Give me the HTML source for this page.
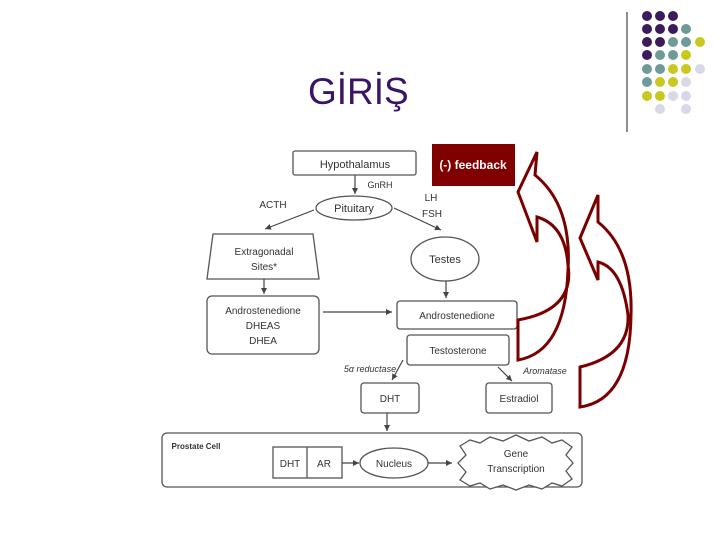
<!DOCTYPE html>
<html><head><meta charset="utf-8"><style>
html,body{margin:0;padding:0;background:#fff;width:720px;height:540px;overflow:hidden}
svg{display:block}
text{font-family:"Liberation Sans",sans-serif}
</style></head><body>
<svg width="720" height="540" viewBox="0 0 720 540" xmlns="http://www.w3.org/2000/svg">
<defs><marker id="ah" markerWidth="8" markerHeight="8" refX="6" refY="3" orient="auto" markerUnits="userSpaceOnUse"><path d="M0,0 L6,3 L0,6 Z" fill="#444"/></marker></defs>
<text x="308" y="104" font-size="37" fill="#3a1466">GİRİŞ</text>
<line x1="627" y1="12" x2="627" y2="132" stroke="#222" stroke-width="1"/>
<g>
<circle cx="647" cy="16" r="5" fill="#3b1a5e"/><circle cx="660" cy="16" r="5" fill="#3b1a5e"/><circle cx="673" cy="16" r="5" fill="#3b1a5e"/>
<circle cx="647" cy="29" r="5" fill="#3b1a5e"/><circle cx="660" cy="29" r="5" fill="#3b1a5e"/><circle cx="673" cy="29" r="5" fill="#3b1a5e"/><circle cx="686" cy="29" r="5" fill="#6e9a9a"/>
<circle cx="647" cy="42" r="5" fill="#3b1a5e"/><circle cx="660" cy="42" r="5" fill="#3b1a5e"/><circle cx="673" cy="42" r="5" fill="#6e9a9a"/><circle cx="686" cy="42" r="5" fill="#6e9a9a"/><circle cx="700" cy="42" r="5" fill="#c8c820"/>
<circle cx="647" cy="55" r="5" fill="#3b1a5e"/><circle cx="660" cy="55" r="5" fill="#6e9a9a"/><circle cx="673" cy="55" r="5" fill="#6e9a9a"/><circle cx="686" cy="55" r="5" fill="#c8c820"/>
<circle cx="647" cy="69" r="5" fill="#6e9a9a"/><circle cx="660" cy="69" r="5" fill="#6e9a9a"/><circle cx="673" cy="69" r="5" fill="#c8c820"/><circle cx="686" cy="69" r="5" fill="#c8c820"/><circle cx="700" cy="69" r="5" fill="#d8d8e8"/>
<circle cx="647" cy="82" r="5" fill="#6e9a9a"/><circle cx="660" cy="82" r="5" fill="#c8c820"/><circle cx="673" cy="82" r="5" fill="#c8c820"/><circle cx="686" cy="82" r="5" fill="#d8d8e8"/>
<circle cx="647" cy="96" r="5" fill="#c8c820"/><circle cx="660" cy="96" r="5" fill="#c8c820"/><circle cx="673" cy="96" r="5" fill="#d8d8e8"/><circle cx="686" cy="96" r="5" fill="#d8d8e8"/>
<circle cx="660" cy="109" r="5" fill="#d8d8e8"/><circle cx="686" cy="109" r="5" fill="#d8d8e8"/>
</g>
<g fill="#fff" stroke="#555" stroke-width="1.3" font-size="11">
<rect x="293" y="151" width="123" height="24" rx="2"/>
<ellipse cx="354" cy="208" rx="38" ry="12"/>
<path d="M213,234 L313,234 L319,279 L207,279 Z"/>
<ellipse cx="445" cy="259" rx="34" ry="22"/>
<rect x="207" y="296" width="112" height="58" rx="5"/>
<rect x="397" y="301" width="120" height="28" rx="3"/>
<rect x="407" y="335" width="102" height="30" rx="3"/>
<rect x="361" y="383" width="58" height="30" rx="3"/>
<rect x="486" y="383" width="66" height="30" rx="3"/>
<rect x="162" y="433" width="420" height="54" rx="5"/>
<rect x="273" y="447" width="69" height="31"/>
<line x1="307" y1="447" x2="307" y2="478"/>
<ellipse cx="394" cy="463" rx="34" ry="15"/>
<path d="M460,446 L470,440 L480,443 L490,437 L503,441 L516,435 L529,441 L542,437 L552,443 L562,440 L572,447 L566,455 L573,463 L566,471 L572,479 L562,486 L552,483 L542,489 L529,485 L516,490 L503,485 L490,489 L480,483 L470,486 L460,480 L466,472 L458,463 L466,455 Z"/>
</g>
<g stroke="#444" stroke-width="1.2" marker-end="url(#ah)">
<line x1="355" y1="175" x2="355" y2="194"/>
<line x1="314" y1="210" x2="265" y2="229"/>
<line x1="394" y1="208" x2="441" y2="230"/>
<line x1="264" y1="279" x2="264" y2="294"/>
<line x1="446" y1="281" x2="446" y2="298"/>
<line x1="323" y1="312" x2="392" y2="312"/>
<line x1="403" y1="360" x2="392" y2="380"/>
<line x1="498" y1="367" x2="512" y2="381"/>
<line x1="387" y1="413" x2="387" y2="431"/>
<line x1="342" y1="463" x2="359" y2="463"/>
<line x1="428" y1="463" x2="452" y2="463"/>
</g>
<g fill="#333" font-size="11" text-anchor="middle">
<text x="355" y="168">Hypothalamus</text>
<text x="380" y="188" font-size="9">GnRH</text>
<text x="354" y="212">Pituitary</text>
<text x="273" y="208" font-size="10">ACTH</text>
<text x="431" y="201" font-size="10">LH</text>
<text x="432" y="217" font-size="10">FSH</text>
<text x="264" y="255" font-size="10">Extragonadal</text>
<text x="264" y="270" font-size="10">Sites*</text>
<text x="445" y="263">Testes</text>
<text x="263" y="314" font-size="10">Androstenedione</text>
<text x="263" y="329" font-size="10">DHEAS</text>
<text x="263" y="344" font-size="10">DHEA</text>
<text x="457" y="319" font-size="10">Androstenedione</text>
<text x="458" y="354" font-size="10">Testosterone</text>
<text x="370" y="372" font-size="9" font-style="italic">5α reductase</text>
<text x="545" y="374" font-size="9" font-style="italic">Aromatase</text>
<text x="390" y="402" font-size="10">DHT</text>
<text x="519" y="402" font-size="10">Estradiol</text>
<text x="196" y="449" font-size="8" font-weight="bold">Prostate Cell</text>
<text x="290" y="467" font-size="10">DHT</text>
<text x="324" y="467" font-size="10">AR</text>
<text x="394" y="467" font-size="10">Nucleus</text>
<text x="516" y="457" font-size="10">Gene</text>
<text x="516" y="472" font-size="10">Transcription</text>
</g>
<rect x="432" y="144" width="83" height="42" fill="#800000"/>
<text x="473" y="169" font-size="12" font-weight="bold" fill="#fff" text-anchor="middle">(-) feedback</text>
<g fill="#fff" stroke="#7a0000" stroke-width="3" stroke-linejoin="miter">
<path d="M518,320 Q575,310 568,265 Q565,225 537,217 L537,242 L518,192 L537,152 L535,175 Q572,205 568,270 Q565,352 518,360 Z"/>
<path d="M580,367 Q630,355 628,315 Q622,268 598,262 L598,280 L580,238 L598,195 L598,222 Q633,250 631,315 Q630,400 580,407 Z"/>
</g>
</svg>
</body></html>
